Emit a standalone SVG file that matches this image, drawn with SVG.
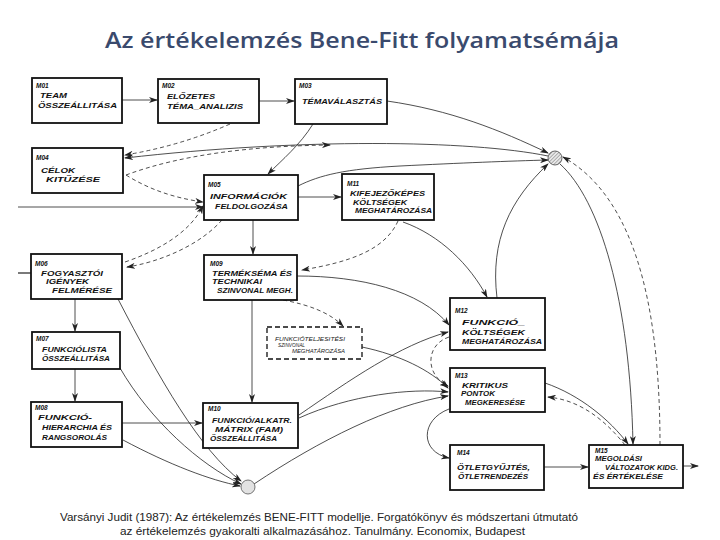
<svg xmlns="http://www.w3.org/2000/svg" width="720" height="540" viewBox="0 0 720 540">
<style>
.box{fill:#fff;stroke:#111;stroke-width:1.8}
.dbox{fill:#fff;stroke:#111;stroke-width:1.3;stroke-dasharray:5,3}
.t{font-family:"Liberation Sans",Arial,sans-serif;font-style:italic;font-weight:bold;font-size:7px;fill:#111}
.m{font-family:"Liberation Sans",Arial,sans-serif;font-style:italic;font-weight:bold;font-size:6.5px;fill:#111}
.s{font-family:"Liberation Sans",Arial,sans-serif;font-style:italic;font-size:4.5px;fill:#222}
.c{fill:none;stroke:#222;stroke-width:0.8;marker-end:url(#arr)}
.d{stroke-dasharray:4,3}
.cap{font-family:"Liberation Sans",Arial,sans-serif;font-size:11px;fill:#222}
</style>
<defs>
<marker id="arr" markerWidth="9" markerHeight="6" refX="8" refY="3" orient="auto" markerUnits="userSpaceOnUse">
<path d="M0,0 L9,3 L0,6 L2.5,3 z" fill="#222"/>
</marker>
<pattern id="hatch" width="2.5" height="2.5" patternUnits="userSpaceOnUse" patternTransform="rotate(45)">
<rect width="2.5" height="2.5" fill="#e8e8e8"/>
<line x1="0" y1="0" x2="0" y2="2.5" stroke="#777" stroke-width="1"/>
</pattern>
</defs>
<rect width="720" height="540" fill="#fff"/>
<text x="362" y="48" text-anchor="middle" font-family="'Open Sans','Liberation Sans',sans-serif" font-weight="600" font-size="21" fill="#3a4a6d" textLength="514" lengthAdjust="spacingAndGlyphs">Az értékelemzés Bene-Fitt folyamatsémája</text>

<g id="connectors">
<path class="c" d="M122,100 L157,100"/>
<path class="c" d="M259,101 L294,101"/>
<path class="c d" d="M230,124 Q180,146 125,155"/>
<path class="c" d="M548,156 C470,140 300,138 125,158"/>
<path class="c d" d="M126,175 C180,155 250,146 330,145"/>
<path class="c" d="M387,101 C450,110 500,130 548,153"/>
<path class="c" d="M313,124 C300,145 282,160 268,174"/>
<path class="c d" d="M126,175 C150,190 175,198 203,202"/>
<path class="c" stroke-width="2" d="M18,207 L203,207"/>
<path fill="none" stroke="#222" stroke-width="1.2" d="M18,273 L31,273"/>
<path class="c" d="M298,197 L341,197"/>
<path class="c" d="M298,186 C320,175 345,169 400,166 C460,163 510,161 548,160"/>
<path class="c" d="M253,220 L253,254"/>
<path class="c d" d="M222,220 C200,245 160,262 127,267"/>
<path class="c d" d="M125,262 C160,250 190,232 203,206"/>
<path class="c d" d="M398,221 C385,250 350,262 302,270"/>
<path class="c" d="M297,276 C360,276 420,290 449,325"/>
<path class="c" d="M403,222 C440,235 470,265 487,297"/>
<path class="c" d="M497,298 C490,240 510,200 548,164"/>
<path class="c d" d="M283,300 C310,305 330,313 343,326"/>
<path class="c" d="M362,347 C400,355 430,370 448,388"/>
<path class="c d" d="M449,337 C425,345 425,375 448,386"/>
<path class="c" d="M299,415 C350,380 400,345 448,332"/>
<path class="c" d="M299,418 C350,395 410,388 448,392"/>
<path class="c" d="M254,484 C320,440 390,405 448,396"/>
<path class="c" d="M75,299 L75,331"/>
<path class="c" d="M75,369 L75,401"/>
<path class="c" d="M122,423 L202,423"/>
<path class="c" d="M123,440 C170,465 210,480 240,486"/>
<path class="c" d="M118,299 C160,380 200,450 241,481"/>
<path class="c" d="M120,368 C150,420 200,465 241,484"/>
<path class="c" d="M252,300 L252,402"/>
<path class="c" d="M449,409 C420,420 420,452 449,458"/>
<path class="c" d="M544,467 L588,467"/>
<path class="c" d="M545,383 C580,395 610,420 628,444"/>
<path class="c d" d="M625,445 C605,420 580,400 548,397"/>
<path class="c" d="M560,164 C600,200 630,300 633,444"/>
<path class="c d" d="M660,445 C660,320 640,200 563,157"/>
<path class="c" stroke-width="1.5" d="M683,466 L698,466"/>
</g>

<g id="junction-top"><circle cx="555" cy="158" r="7" fill="url(#hatch)" stroke="#444" stroke-width="0.8"/></g>
<g id="junction-bottom"><circle cx="248" cy="487" r="7" fill="#e2e2e2" stroke="#555" stroke-width="0.8"/></g>

<g id="M01"><rect class="box" x="32" y="78" width="90" height="45"/>
<text class="m" x="36" y="88">M01</text>
<text class="t" x="40" y="98" textLength="27" lengthAdjust="spacingAndGlyphs">TEAM</text>
<text class="t" x="38" y="108" textLength="79" lengthAdjust="spacingAndGlyphs">ÖSSZEÁLLITÁSA</text></g>

<g id="M02"><rect class="box" x="158" y="79" width="101" height="44"/>
<text class="m" x="162" y="88">M02</text>
<text class="t" x="167" y="99" textLength="48" lengthAdjust="spacingAndGlyphs">ELŐZETES</text>
<text class="t" x="167" y="109" textLength="76" lengthAdjust="spacingAndGlyphs">TÉMA_ANALIZIS</text></g>

<g id="M03"><rect class="box" x="295" y="79" width="92" height="45"/>
<text class="m" x="299" y="88">M03</text>
<text class="t" x="302" y="104" textLength="80" lengthAdjust="spacingAndGlyphs">TÉMAVÁLASZTÁS</text></g>

<g id="M04"><rect class="box" x="32" y="148" width="91" height="45"/>
<text class="m" x="36" y="160">M04</text>
<text class="t" x="41" y="173" textLength="34" lengthAdjust="spacingAndGlyphs">CÉLOK</text>
<text class="t" x="46" y="182" textLength="54" lengthAdjust="spacingAndGlyphs">KITŰZÉSE</text></g>

<g id="M05"><rect class="box" x="204" y="175" width="94" height="45"/>
<text class="m" x="208" y="187">M05</text>
<text class="t" x="210" y="199" textLength="77" lengthAdjust="spacingAndGlyphs">INFORMÁCIÓK</text>
<text class="t" x="215" y="209" textLength="73" lengthAdjust="spacingAndGlyphs">FELDOLGOZÁSA</text></g>

<g id="M11"><rect class="box" x="342" y="174" width="92" height="46"/>
<text class="m" x="347" y="186">M11</text>
<text class="t" x="350" y="196" textLength="75" lengthAdjust="spacingAndGlyphs">KIFEJEZŐKÉPES</text>
<text class="t" x="353" y="205" textLength="54" lengthAdjust="spacingAndGlyphs">KÖLTSÉGEK</text>
<text class="t" x="355" y="213" textLength="77" lengthAdjust="spacingAndGlyphs">MEGHATÁROZÁSA</text></g>

<g id="M06"><rect class="box" x="31" y="254" width="91" height="45"/>
<text class="m" x="35" y="266">M06</text>
<text class="t" x="41" y="276" textLength="62" lengthAdjust="spacingAndGlyphs">FOGYASZTÓI</text>
<text class="t" x="46" y="284" textLength="43" lengthAdjust="spacingAndGlyphs">IGÉNYEK</text>
<text class="t" x="52" y="293" textLength="60" lengthAdjust="spacingAndGlyphs">FELMÉRÉSE</text></g>

<g id="M09"><rect class="box" x="204" y="255" width="93" height="45"/>
<text class="m" x="210" y="266">M09</text>
<text class="t" x="212" y="276" textLength="80" lengthAdjust="spacingAndGlyphs">TERMÉKSÉMA ÉS</text>
<text class="t" x="212" y="284" textLength="50" lengthAdjust="spacingAndGlyphs">TECHNIKAI</text>
<text class="t" x="217" y="293" textLength="76" lengthAdjust="spacingAndGlyphs">SZINVONAL MEGH.</text></g>

<g id="M07"><rect class="box" x="32" y="332" width="88" height="37"/>
<text class="m" x="36" y="341">M07</text>
<text class="t" x="42" y="352" textLength="65" lengthAdjust="spacingAndGlyphs">FUNKCIÓLISTA</text>
<text class="t" x="42" y="361" textLength="68" lengthAdjust="spacingAndGlyphs">ÖSSZEÁLLITÁSA</text></g>

<g id="FTSZ"><rect class="dbox" x="267" y="327" width="95" height="32"/>
<text class="s" x="275" y="341" textLength="70" lengthAdjust="spacingAndGlyphs">FUNKCIÓTELJESITÉSI</text>
<text class="s" x="278" y="347" textLength="27" lengthAdjust="spacingAndGlyphs">SZINVONAL</text>
<text class="s" x="292" y="353" textLength="53" lengthAdjust="spacingAndGlyphs">MEGHATÁROZÁSA</text></g>

<g id="M12"><rect class="box" x="450" y="298" width="95" height="52"/>
<text class="m" x="455" y="313">M12</text>
<text class="t" x="462" y="325" textLength="63" lengthAdjust="spacingAndGlyphs">FUNKCIÓ_</text>
<text class="t" x="462" y="335" textLength="63" lengthAdjust="spacingAndGlyphs">KÖLTSÉGEK</text>
<text class="t" x="462" y="344" textLength="80" lengthAdjust="spacingAndGlyphs">MEGHATÁROZÁSA</text></g>

<g id="M13"><rect class="box" x="450" y="368" width="95" height="44"/>
<text class="m" x="455" y="378">M13</text>
<text class="t" x="462" y="388" textLength="46" lengthAdjust="spacingAndGlyphs">KRITIKUS</text>
<text class="t" x="461" y="396" textLength="34" lengthAdjust="spacingAndGlyphs">PONTOK</text>
<text class="t" x="465" y="405" textLength="60" lengthAdjust="spacingAndGlyphs">MEGKERESÉSE</text></g>

<g id="M08"><rect class="box" x="31" y="402" width="91" height="45"/>
<text class="m" x="35" y="410">M08</text>
<text class="t" x="38" y="420" textLength="54" lengthAdjust="spacingAndGlyphs">FUNKCIÓ-</text>
<text class="t" x="42" y="430" textLength="70" lengthAdjust="spacingAndGlyphs">HIERARCHIA ÉS</text>
<text class="t" x="42" y="440" textLength="65" lengthAdjust="spacingAndGlyphs">RANGSOROLÁS</text></g>

<g id="M10"><rect class="box" x="203" y="403" width="95" height="45"/>
<text class="m" x="208" y="411">M10</text>
<text class="t" x="212" y="423" textLength="80" lengthAdjust="spacingAndGlyphs">FUNKCIÓ/ALKATR.</text>
<text class="t" x="215" y="432" textLength="68" lengthAdjust="spacingAndGlyphs">MÁTRIX (FAM)</text>
<text class="t" x="210" y="441" textLength="67" lengthAdjust="spacingAndGlyphs">ÖSSZEÁLLITÁSA</text></g>

<g id="M14"><rect class="box" x="450" y="445" width="94" height="45"/>
<text class="m" x="457" y="455">M14</text>
<text class="t" x="457" y="470" textLength="73" lengthAdjust="spacingAndGlyphs">ÖTLETGYŰJTÉS,</text>
<text class="t" x="458" y="479" textLength="70" lengthAdjust="spacingAndGlyphs">ÖTLETRENDEZÉS</text></g>

<g id="M15"><rect class="box" x="589" y="445" width="94" height="43"/>
<text class="m" x="595" y="453">M15</text>
<text class="t" x="595" y="461" textLength="47" lengthAdjust="spacingAndGlyphs">MEGOLDÁSI</text>
<text class="t" x="605" y="470" textLength="73" lengthAdjust="spacingAndGlyphs">VÁLTOZATOK KIDG.</text>
<text class="t" x="593" y="479" textLength="70" lengthAdjust="spacingAndGlyphs">ÉS ÉRTÉKELÉSE</text></g>

<text class="cap" x="60" y="521" textLength="518" lengthAdjust="spacingAndGlyphs">Varsányi Judit (1987): Az értékelemzés BENE-FITT modellje. Forgatókönyv és módszertani útmutató</text>
<text class="cap" x="120" y="535" textLength="405" lengthAdjust="spacingAndGlyphs">az értékelemzés gyakoralti alkalmazásához. Tanulmány. Economix, Budapest</text>
</svg>
